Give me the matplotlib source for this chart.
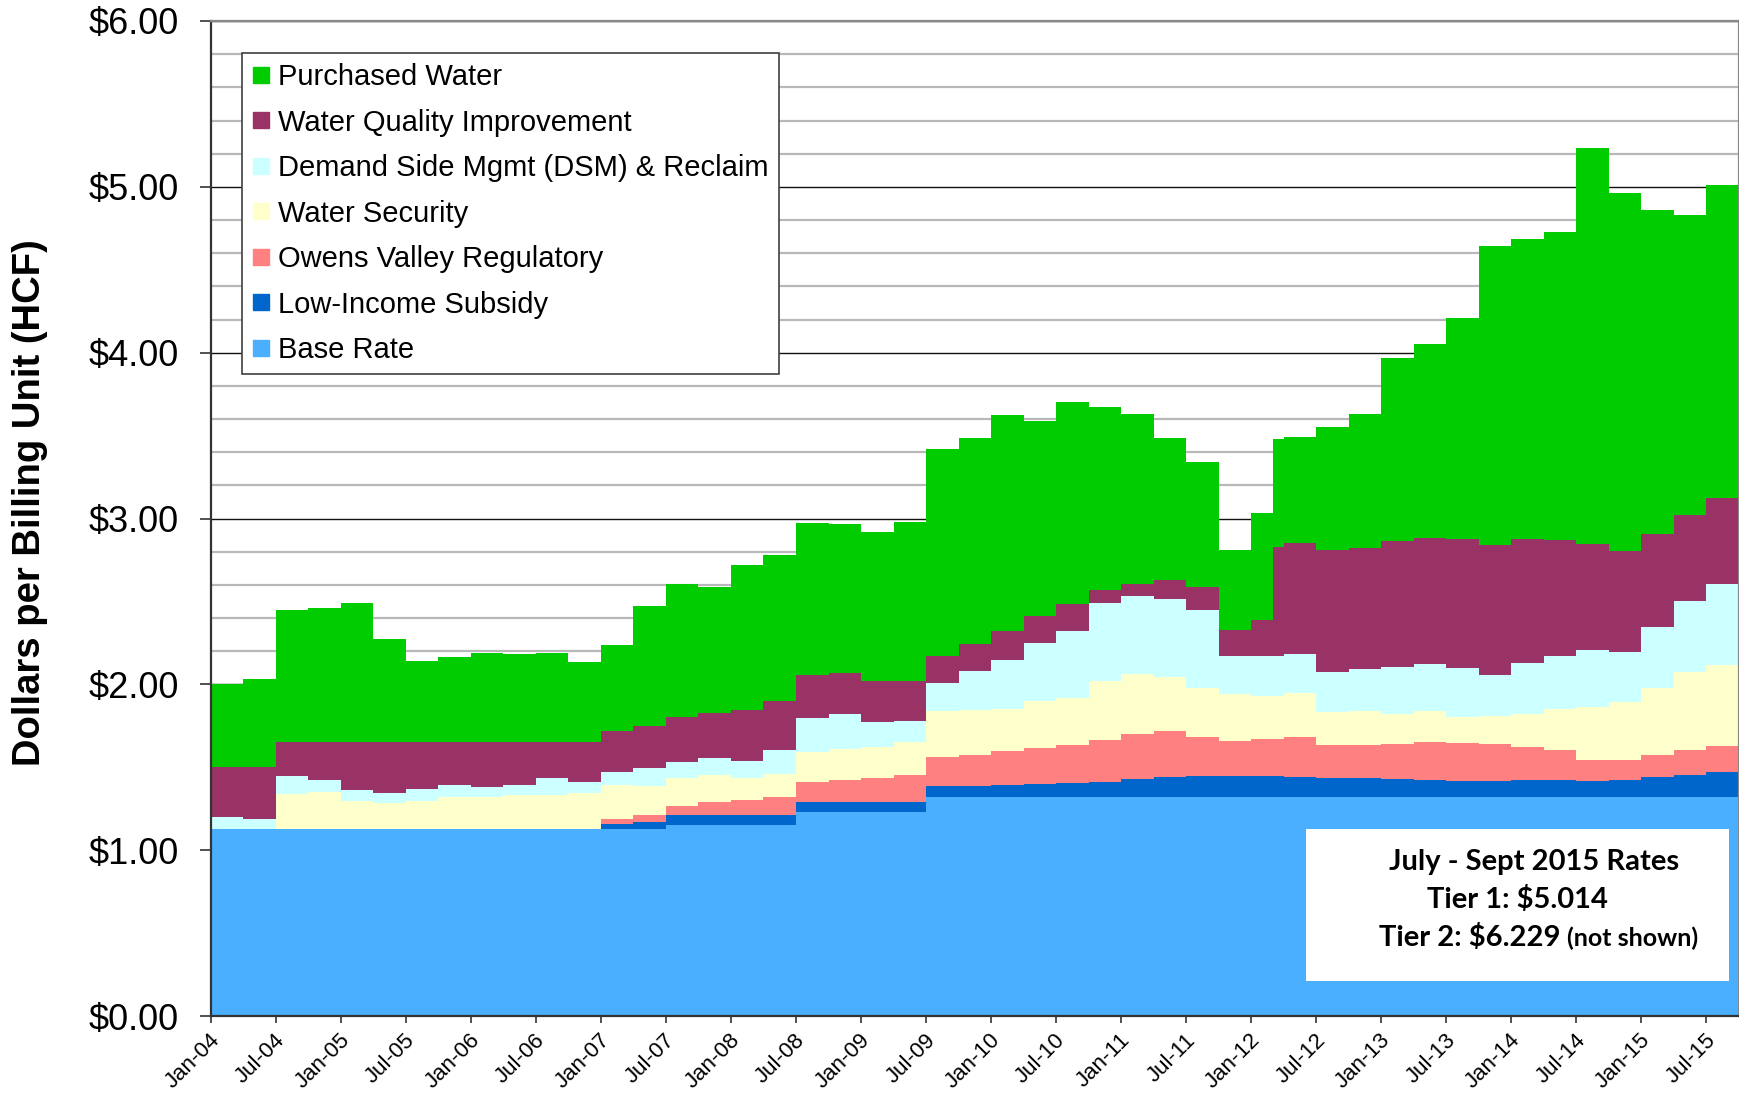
import numpy as np
import matplotlib
matplotlib.use("Agg")
import matplotlib.pyplot as plt
from matplotlib import font_manager
from matplotlib.lines import Line2D
from matplotlib.patches import Rectangle
from matplotlib.ticker import MultipleLocator, FixedLocator
from matplotlib.transforms import ScaledTranslation

# rate periods (start month of each step), plot runs to end_label
periods = ["Jan-04", "Apr-04", "Jul-04", "Oct-04", "Jan-05", "Apr-05", "Jul-05", "Oct-05",
           "Jan-06", "Apr-06", "Jul-06", "Oct-06", "Jan-07", "Apr-07", "Jul-07", "Oct-07",
           "Jan-08", "Apr-08", "Jul-08", "Oct-08", "Jan-09", "Apr-09", "Jul-09", "Oct-09",
           "Jan-10", "Apr-10", "Jul-10", "Oct-10", "Jan-11", "Apr-11", "Jul-11", "Oct-11",
           "Jan-12", "Mar-12", "Apr-12", "Jul-12", "Oct-12", "Jan-13", "Apr-13", "Jul-13",
           "Oct-13", "Jan-14", "Apr-14", "Jul-14", "Oct-14", "Jan-15", "Apr-15", "Jul-15"]
end_label = "Oct-15"

# $ per HCF, one value per period (bottom to top of the stack)
base_rate = [1.125, 1.125, 1.125, 1.125, 1.125, 1.125, 1.125, 1.125, 1.125, 1.125, 1.125, 1.125,
             1.125, 1.125, 1.153, 1.153, 1.153, 1.153, 1.233, 1.233, 1.233, 1.233, 1.319, 1.319,
             1.319, 1.319, 1.319, 1.319, 1.32, 1.32, 1.32, 1.32, 1.32, 1.32, 1.32, 1.32,
             1.32, 1.32, 1.32, 1.32, 1.32, 1.32, 1.32, 1.32, 1.32, 1.32, 1.32, 1.32]
low_income = [0, 0, 0, 0, 0, 0, 0, 0, 0, 0, 0, 0,
              0.033, 0.045, 0.057, 0.057, 0.057, 0.057, 0.057, 0.057, 0.057, 0.057, 0.065, 0.065,
              0.073, 0.081, 0.084, 0.095, 0.11, 0.12, 0.126, 0.129, 0.129, 0.129, 0.123, 0.115,
              0.115, 0.112, 0.106, 0.10, 0.10, 0.103, 0.103, 0.10, 0.106, 0.123, 0.135, 0.149]
owens_valley = [0, 0, 0, 0, 0, 0, 0, 0, 0, 0, 0, 0,
                0.028, 0.043, 0.058, 0.081, 0.091, 0.11, 0.121, 0.132, 0.148, 0.161, 0.178, 0.191,
                0.205, 0.218, 0.231, 0.253, 0.27, 0.28, 0.237, 0.211, 0.222, 0.222, 0.24, 0.199,
                0.202, 0.211, 0.228, 0.228, 0.223, 0.197, 0.182, 0.124, 0.115, 0.13, 0.15, 0.162]
water_security = [0, 0, 0.213, 0.223, 0.17, 0.16, 0.173, 0.193, 0.198, 0.208, 0.205, 0.22,
                  0.208, 0.175, 0.169, 0.164, 0.132, 0.138, 0.18, 0.191, 0.186, 0.199, 0.277, 0.272,
                  0.255, 0.283, 0.283, 0.352, 0.36, 0.324, 0.297, 0.28, 0.26, 0.26, 0.263, 0.199,
                  0.202, 0.179, 0.185, 0.156, 0.167, 0.204, 0.248, 0.318, 0.35, 0.407, 0.468, 0.488]
dsm_reclaim = [0.075, 0.06, 0.11, 0.075, 0.065, 0.058, 0.07, 0.075, 0.058, 0.06, 0.103, 0.068,
               0.075, 0.105, 0.095, 0.102, 0.103, 0.145, 0.205, 0.21, 0.15, 0.13, 0.172, 0.232,
               0.297, 0.347, 0.407, 0.469, 0.47, 0.468, 0.471, 0.231, 0.24, 0.24, 0.236, 0.24,
               0.251, 0.283, 0.283, 0.295, 0.245, 0.306, 0.315, 0.346, 0.306, 0.367, 0.427, 0.488]
water_quality = [0.30, 0.315, 0.205, 0.23, 0.29, 0.31, 0.285, 0.26, 0.273, 0.26, 0.22, 0.24,
                 0.248, 0.258, 0.274, 0.272, 0.312, 0.296, 0.258, 0.248, 0.245, 0.239, 0.159, 0.164,
                 0.175, 0.162, 0.158, 0.083, 0.075, 0.115, 0.138, 0.156, 0.214, 0.659, 0.668, 0.737,
                 0.735, 0.762, 0.763, 0.78, 0.783, 0.748, 0.70, 0.64, 0.608, 0.558, 0.523, 0.515]
purchased_water = [0.50, 0.53, 0.795, 0.805, 0.838, 0.618, 0.485, 0.51, 0.535, 0.528, 0.538, 0.48,
                   0.523, 0.72, 0.802, 0.757, 0.872, 0.883, 0.919, 0.896, 0.897, 0.961, 1.247, 1.244,
                   1.303, 1.179, 1.223, 1.104, 1.027, 0.856, 0.749, 0.485, 0.65, 0.65, 0.64, 0.743,
                   0.808, 1.098, 1.165, 1.331, 1.806, 1.806, 1.858, 2.385, 2.157, 1.958, 1.81, 1.892]

series_names = ["Base Rate", "Low-Income Subsidy", "Owens Valley Regulatory", "Water Security",
                "Demand Side Mgmt (DSM) & Reclaim", "Water Quality Improvement", "Purchased Water"]
colors = ["#4AAFFF", "#0066CC", "#FF8080", "#FFFFCC", "#CCFFFF", "#993366", "#00CC00"]

tick_labels = ["Jan-04", "Jul-04", "Jan-05", "Jul-05", "Jan-06", "Jul-06", "Jan-07", "Jul-07",
               "Jan-08", "Jul-08", "Jan-09", "Jul-09", "Jan-10", "Jul-10", "Jan-11", "Jul-11",
               "Jan-12", "Jul-12", "Jan-13", "Jul-13", "Jan-14", "Jul-14", "Jan-15", "Jul-15"]

MONTHS = ["Jan", "Feb", "Mar", "Apr", "May", "Jun", "Jul", "Aug", "Sep", "Oct", "Nov", "Dec"]


def month_index(label):
    """'Jul-08' -> months since Jan-04"""
    mon, yy = label.split("-")
    return (2000 + int(yy) - 2004) * 12 + MONTHS.index(mon)


x = np.array([month_index(p) for p in periods] + [month_index(end_label)])
stack = [base_rate, low_income, owens_valley, water_security, dsm_reclaim, water_quality, purchased_water]
stack = [np.append(s, s[-1]) for s in stack]

plt.rcParams['font.family'] = ['Liberation Sans', 'DejaVu Sans']

W, H = 1739, 1094
fig = plt.figure(figsize=(W / 100, H / 100), dpi=100)
left_px, right_px, top_px, bottom_px = 210.7, 1739, 21, 1016
ax = fig.add_axes([left_px / W, 1 - bottom_px / H, (right_px - left_px) / W, (bottom_px - top_px) / H])

ax.stackplot(x, *stack, colors=colors, step='post', linewidth=0, zorder=2)

ax.set_xlim(0, month_index(end_label))
ax.set_ylim(0, 6)

# grid: gray every $0.20, black every $1
ax.yaxis.set_major_locator(FixedLocator([0, 1, 2, 3, 4, 5, 6]))
ax.yaxis.set_minor_locator(MultipleLocator(0.2))
ax.set_yticklabels([r"\$%.2f" % v for v in range(7)], fontsize=26)
ax.grid(which='minor', axis='y', color='#b8b8b8', linewidth=1.6, zorder=0)
ax.grid(which='major', axis='y', color='#111111', linewidth=1.0, zorder=0)
ax.set_axisbelow(True)
ax.tick_params(axis='y', which='major', length=8, width=1.2, color='#333333', pad=15)
ax.tick_params(axis='y', which='minor', length=0)

ax.set_xticks([month_index(t) for t in tick_labels])
ax.set_xticklabels(tick_labels, fontsize=16, rotation=45, ha='right', va='center',
                   rotation_mode='anchor')
ax.tick_params(axis='x', length=5, width=1.2, color='#333333', pad=10)
shift = ScaledTranslation(6 / 100, 0, fig.dpi_scale_trans)
for lab in ax.get_xticklabels():
    lab.set_transform(lab.get_transform() + shift)

for side in ['left', 'bottom']:
    ax.spines[side].set_color('#333333')
    ax.spines[side].set_linewidth(1.6)
for side in ['top', 'right']:
    ax.spines[side].set_color('#888888')
    ax.spines[side].set_linewidth(1.6)

# y label: narrow bold if the font is there
try:
    font_manager.findfont('Liberation Sans Narrow', fallback_to_default=False)
    ylab_family, ylab_size = ['Liberation Sans Narrow', 'Liberation Sans'], 31
except Exception:
    ylab_family, ylab_size = ['Liberation Sans', 'DejaVu Sans'], 27.5
fig.text(30 / W, 1 - 503 / H, "Dollars per Billing Unit (HCF)", rotation=90, ha='center',
         va='center', fontsize=ylab_size, fontweight='bold', family=ylab_family)

# legend, top of stack first
handles = [Line2D([], [], marker='s', markersize=11, linestyle='none', color=c)
           for c in colors[::-1]]
leg = ax.legend(handles, series_names[::-1], loc='upper left', bbox_to_anchor=(0.0205, 0.968),
                borderaxespad=0, fontsize=21, frameon=True, fancybox=False, framealpha=1,
                edgecolor='#404040', handlelength=0.6, handletextpad=0.3, labelspacing=0.6,
                borderpad=0.35)
leg.get_frame().set_linewidth(1.2)
leg.set_zorder(6)

# current rates box
ax.add_patch(Rectangle((0.7167, 0.0352), 0.2768, 0.1527, transform=ax.transAxes,
                       facecolor='white', edgecolor='none', zorder=5))
box_font = ['Lato', 'DejaVu Sans']
ax.text(0.8659, 0.1467, "July - Sept 2015 Rates", transform=ax.transAxes, ha='center',
        va='baseline', fontsize=21, fontweight='bold', family=box_font, zorder=7)
ax.text(0.8548, 0.1085, r"Tier 1: \$5.014", transform=ax.transAxes, ha='center',
        va='baseline', fontsize=21, fontweight='bold', family=box_font, zorder=7)
ax.text(0.8830, 0.0700, r"Tier 2: \$6.229", transform=ax.transAxes, ha='right',
        va='baseline', fontsize=21, fontweight='bold', family=box_font, zorder=7)
ax.text(0.8875, 0.0700, "(not shown)", transform=ax.transAxes, ha='left',
        va='baseline', fontsize=18, fontweight='bold', family=box_font, zorder=7)

fig.savefig("out.png", dpi=100)
